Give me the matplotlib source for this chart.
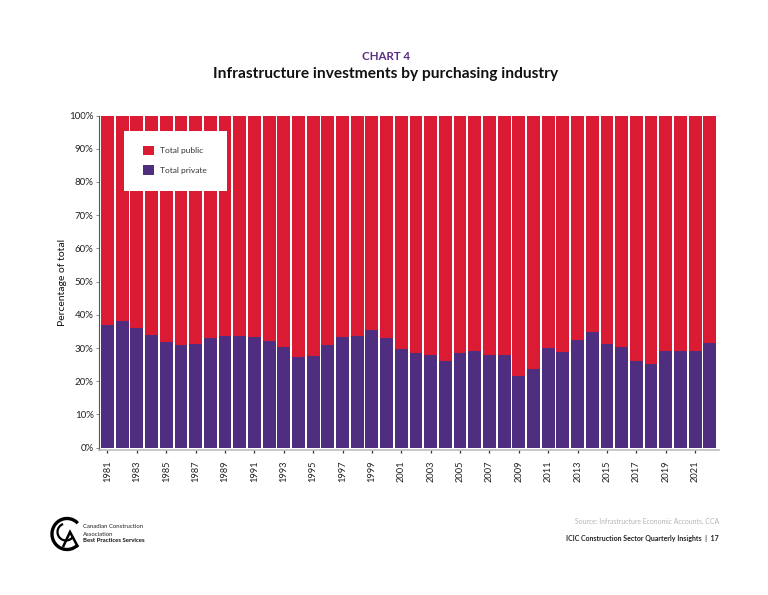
import matplotlib
matplotlib.use("Agg")
import matplotlib.pyplot as plt
from matplotlib.patches import Arc, Polygon, Rectangle

plt.rcParams['font.family'] = ['Lato', 'DejaVu Sans']

years = list(range(1981, 2023))
private = [37.0, 38.2, 36.0, 33.9, 31.8, 30.8, 31.2, 33.0, 33.7, 33.6, 33.3, 32.2, 30.3, 27.3,
           27.5, 30.9, 33.3, 33.7, 35.5, 33.0, 29.6, 28.4, 27.9, 26.1, 28.5, 29.1, 28.0, 27.9,
           21.6, 23.7, 29.9, 28.8, 32.4, 34.9, 31.2, 30.3, 26.1, 25.2, 29.1, 29.0, 29.0, 31.5]
public = [100 - p for p in private]
y_ticks = list(range(0, 101, 10))
x_ticks = list(range(1981, 2022, 2))
RED = '#DB1A33'
PURPLE = '#4F2D7F'
W, H = 768, 595

fig = plt.figure(figsize=(W / 100, H / 100), dpi=100, facecolor='white')
L, R, T, B = 98.5, 719, 115.5, 450
ax = fig.add_axes([L / W, 1 - B / H, (R - L) / W, (B - T) / H])
ax.bar(years, private, width=0.875, color=PURPLE, label='Total private', linewidth=0)
ax.bar(years, public, width=0.875, bottom=private, color=RED, label='Total public', linewidth=0)

px_x = (R - L) / 14.69
x0 = 1981 - (107.5 - L) / 14.69
ax.set_xlim(x0, x0 + px_x)
ax.set_ylim(-0.7, 100)

for s in ('top', 'right'):
    ax.spines[s].set_visible(False)
ax.spines['left'].set_color('#555555')
ax.spines['left'].set_linewidth(0.8)
ax.spines['bottom'].set_color('#BDBDBD')
ax.spines['bottom'].set_linewidth(1.2)

ax.set_yticks(y_ticks)
ax.set_yticklabels([f'{v}%' for v in y_ticks], fontsize=7, color='#222222')
ax.tick_params(axis='y', length=2, width=0.6, color='#777777', pad=1.5)
ax.set_xticks(x_ticks)
ax.set_xticklabels([str(v) for v in x_ticks], rotation=90, fontsize=6.7, color='#222222')
ax.tick_params(axis='x', length=2.5, width=0.9, color='#333333', pad=5)
ax.set_ylabel('Percentage of total', fontsize=7.5, color='#111111')
ax.yaxis.set_label_coords((67 - L) / (R - L), 0.5)

ov = fig.add_axes([0, 0, 1, 1], facecolor='none')
ov.set_xlim(0, W)
ov.set_ylim(H, 0)
ov.axis('off')

ov.add_patch(Rectangle((124, 131), 103, 60, facecolor='white', edgecolor='none', zorder=1))
handles, labels = ax.get_legend_handles_labels()
leg = ov.legend(handles[::-1], labels[::-1], loc='upper left',
                bbox_to_anchor=(143, 146), bbox_transform=ov.transData,
                borderaxespad=0, borderpad=0, frameon=False, fontsize=6,
                handlelength=1.35, handleheight=1.35, handletextpad=0.7,
                labelspacing=1.2, labelcolor='#333333')
leg.set_zorder(5)

ov.text(386, 57, 'CHART 4', ha='center', va='center', fontsize=8.3, fontweight='bold', color='#5B2C83')
ov.text(386, 74, 'Infrastructure investments by purchasing industry', ha='center', va='center',
        fontsize=11.15, fontweight='bold', color='#111111')

ov.text(719, 521, 'Source: Infrastructure Economic Accounts, CCA', ha='right', va='center',
        fontsize=4.95, color='#B5B5B5')
ov.text(719, 539, 'ICIC Construction Sector Quarterly Insights  |  17', ha='right', va='center',
        fontsize=5.0, fontweight='bold', color='#222222')

# logo
ov.add_patch(Arc((67, 534), 30, 31, theta1=45, theta2=315, lw=2.4, color='black'))
ov.add_patch(Arc((66, 532), 17, 17, theta1=40, theta2=250, lw=1.6, color='black'))
ov.add_patch(Polygon([[63, 547], [70, 532], [78, 547]], closed=False, fill=False, lw=1.8, edgecolor='black'))
ov.text(83, 526.5, 'Canadian Construction', fontsize=4.3, va='center', color='#222222')
ov.text(83, 534, 'Association', fontsize=4.3, va='center', color='#222222')
ov.text(83, 541, 'Best Practices Services', fontsize=4.3, va='center', fontweight='bold', color='#111111')

fig.savefig('out.png', dpi=100, facecolor='white')
